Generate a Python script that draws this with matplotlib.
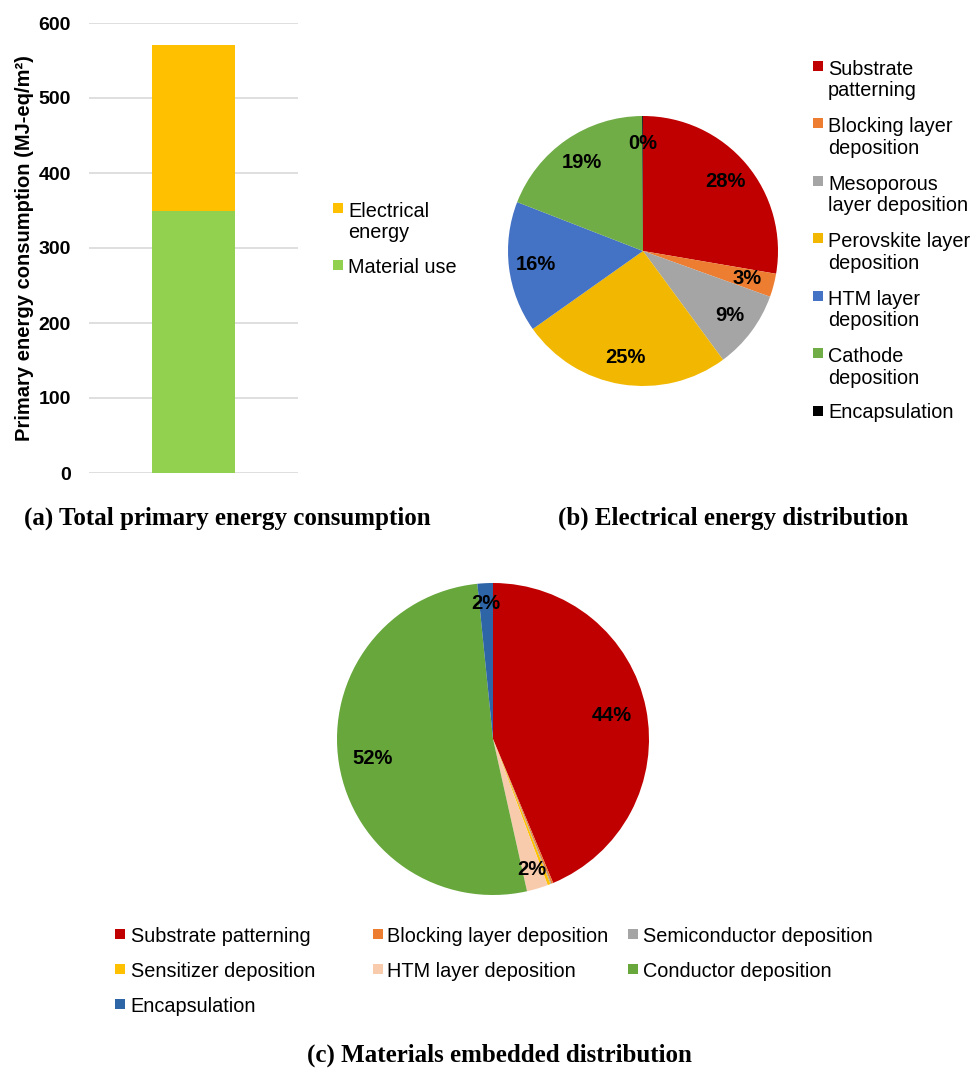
import matplotlib.pyplot as plt
from matplotlib.patches import Rectangle
import numpy as np

plt.rcParams['font.family'] = ['Liberation Sans', 'DejaVu Sans']

# (a) total primary energy consumption, MJ-eq/m2
bar_parts = ['Electrical\nenergy', 'Material use']
material_use = 350
electrical_energy = 221

# (b) electrical energy distribution (%)
elec_labels = ['Substrate\npatterning', 'Blocking layer\ndeposition', 'Mesoporous\nlayer deposition',
               'Perovskite layer\ndeposition', 'HTM layer\ndeposition', 'Cathode\ndeposition', 'Encapsulation']
elec_values = [27.7, 2.8, 9.4, 25.3, 15.7, 19.0, 0.1]
elec_colors = ['#C00000', '#ED7D31', '#A5A5A5', '#F2B700', '#4472C4', '#70AD47', '#000000']

# (c) materials embedded distribution (%)
mat_labels = ['Substrate patterning', 'Blocking layer deposition', 'Semiconductor deposition',
              'Sensitizer deposition', 'HTM layer deposition', 'Conductor deposition', 'Encapsulation']
mat_values = [43.7, 0.2, 0.1, 0.3, 2.2, 51.9, 1.6]
mat_colors = ['#C00000', '#ED7D31', '#A5A5A5', '#FFC000', '#F8CBAD', '#67A73C', '#2E65A6']

W, H = 971, 1070
fig = plt.figure(figsize=(W / 100, H / 100), dpi=100)
LEG_FS = 14.3
LINE_PX = 23.3

def px_axes(x0, y0, x1, y1):
    # rectangle given in pixels from top-left
    return fig.add_axes([x0 / W, 1 - y1 / H, (x1 - x0) / W, (y1 - y0) / H])

def legend_entry(xm, xt, base, color, label):
    # small square key + text, baseline of first line at `base` (pixels from top)
    fig.add_artist(Rectangle((xm / W, 1 - (base - 2.3) / H), 10 / W, 10 / H,
                             transform=fig.transFigure, color=color, lw=0))
    # va='baseline' sits on the last line, so push down for extra lines
    last = base + LINE_PX * label.count('\n')
    fig.text(xt / W, 1 - last / H, label, fontsize=LEG_FS, va='baseline', ha='left',
             linespacing=1.17)

# ---- (a) stacked bar
ax1 = px_axes(89, 23, 298, 473)
ax1.bar([0], [material_use], width=0.4, color='#92D050', zorder=3)
ax1.bar([0], [electrical_energy], bottom=[material_use], width=0.4, color='#FFC000', zorder=3)
ax1.set_xlim(-0.5, 0.5)
ax1.set_ylim(0, 600)
ax1.set_yticks(np.arange(0, 601, 100))
ax1.set_xticks([])
ax1.grid(axis='y', color='#D9D9D9', linewidth=1.2, zorder=0)
for s in ax1.spines.values():
    s.set_visible(False)
ax1.tick_params(axis='y', length=0, pad=13, labelsize=14)
for t in ax1.get_yticklabels():
    t.set_fontweight('bold')
ax1.set_ylabel('Primary energy consumption (MJ-eq/m²)', fontsize=14.5, fontweight='bold', labelpad=3)
legend_entry(333, 348, 215, '#FFC000', bar_parts[0])
legend_entry(333, 348, 272.7, '#92D050', bar_parts[1])

# ---- (b) electrical energy pie
R = 135
cx, cy = 643, 251
ax2 = px_axes(cx - 1.2 * R, cy - 1.2 * R, cx + 1.2 * R, cy + 1.2 * R)
w2, _, t2 = ax2.pie(elec_values, colors=elec_colors, startangle=90, counterclock=False,
                    autopct='%.0f%%', pctdistance=0.8, wedgeprops=dict(linewidth=0),
                    textprops=dict(fontsize=14.5, fontweight='bold', color='black'))
ax2.set_xlim(-1.2, 1.2)
ax2.set_ylim(-1.2, 1.2)
for i, lab in enumerate(elec_labels):
    legend_entry(813, 828, 73 + 57.5 * i, elec_colors[i], lab)

# ---- (c) materials pie
R = 156
cx, cy = 493, 739
ax3 = px_axes(cx - 1.2 * R, cy - 1.2 * R, cx + 1.2 * R, cy + 1.2 * R)
w3, _, t3 = ax3.pie(mat_values, colors=mat_colors, startangle=90, counterclock=False,
                    autopct=lambda p: f'{p:.0f}%' if p >= 1 else '', pctdistance=0.78,
                    wedgeprops=dict(linewidth=0),
                    textprops=dict(fontsize=14.5, fontweight='bold', color='black'))
ax3.set_xlim(-1.2, 1.2)
ax3.set_ylim(-1.2, 1.2)
# small slices get their labels further out
for v, t in zip(mat_values, t3):
    if v < 5:
        x, y = t.get_position()
        t.set_position((x * 0.87 / 0.78, y * 0.87 / 0.78))
col_mark = [115, 372.7, 628]
col_text = [130.7, 386.7, 643.3]
for i, lab in enumerate(mat_labels):
    r, c = divmod(i, 3)
    legend_entry(col_mark[c], col_text[c], 941.7 + 35 * r, mat_colors[i], lab)

# captions
cap = dict(fontsize=18, fontweight='bold', family=['Liberation Serif', 'DejaVu Serif'],
           ha='center', va='baseline')
fig.text(227 / W, 1 - 525 / H, '(a) Total primary energy consumption', **cap)
fig.text(733 / W, 1 - 525 / H, '(b) Electrical energy distribution', **cap)
fig.text(499 / W, 1 - 1062 / H, '(c) Materials embedded distribution', **cap)

fig.savefig('out.png', dpi=100)
